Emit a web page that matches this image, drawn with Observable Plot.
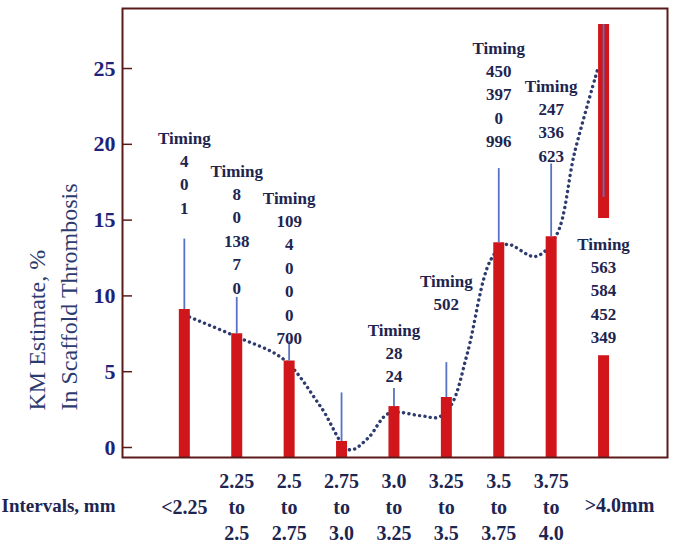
<!DOCTYPE html>
<html><head><meta charset="utf-8">
<script src="https://cdn.jsdelivr.net/npm/d3@7"></script>
<script src="https://cdn.jsdelivr.net/npm/@observablehq/plot@0.6"></script>
<style>html,body{margin:0;padding:0;background:#fff;overflow:hidden;}</style>
</head><body><div id="chart"></div>
<script>
// ---- data ----
const categories = ["<2.25", "2.25\nto\n2.5", "2.5\nto\n2.75", "2.75\nto\n3.0", "3.0\nto\n3.25", "3.25\nto\n3.5", "3.5\nto\n3.75", "3.75\nto\n4.0", ">4.0mm"];
const kmEstimate = [9.1, 7.5, 5.7, 0.4, 2.7, 3.3, 13.5, 13.9, 27.9];
const errLow  = [9.1, 7.5, 5.7, 0.4, 2.7, 3.3, 13.5, 13.9, 16.5];
const errHigh = [13.75, 9.9, 7.0, 3.6, 3.9, 5.6, 18.4, 18.7, 27.9];
// label gap cut out of the last (truncated) bar
const gapLow  = [null, null, null, null, null, null, null, null, 6.05];
const gapHigh = [null, null, null, null, null, null, null, null, 15.1];
const timingLabels = [
  "Timing\n4\n0\n1",
  "Timing\n8\n0\n138\n7\n0",
  "Timing\n109\n4\n0\n0\n0\n700",
  "",
  "Timing\n28\n24",
  "Timing\n502",
  "Timing\n450\n397\n0\n996",
  "Timing\n247\n336\n623",
  "Timing\n563\n584\n452\n349"
];
const labelTop = [21.14, 18.96, 17.18, null, 8.48, 11.71, 27.08, 24.57, 14.15];
// dotted trend curve (category position, KM estimate)
const trendPos = [1.1, 2.0, 2.9, 3.6, 4.15, 4.5, 4.9, 5.5, 5.85, 6.1, 6.4, 6.85, 7.15, 7.7, 8.1, 8.45, 8.9];
const trendVal = [8.6, 7.3, 5.8, 2.7, -0.15, 0.6, 2.25, 2.1, 2.0, 2.85, 6.2, 12.4, 13.4, 12.6, 14.0, 19.5, 25.1];
const yTicks = [0, 5, 10, 15, 20, 25];
const yDomain = [-0.66, 28.96];
const xDomain = [-0.18, 10.22];
const yLabel = "KM Estimate, %\nIn Scaffold Thrombosis";
const xLabel = "Intervals, mm";

// ---- tables built from the arrays ----
const cats = categories.map((c, i) => ({idx: i + 1, label: c, value: kmEstimate[i], lo: errLow[i], hi: errHigh[i], timing: timingLabels[i], top: labelTop[i]}));
const segments = [];
cats.forEach((d, i) => {
  if (gapLow[i] != null) {
    segments.push({idx: d.idx, y1: yDomain[0], y2: gapLow[i]});
    segments.push({idx: d.idx, y1: gapHigh[i], y2: d.value});
  } else {
    segments.push({idx: d.idx, y1: yDomain[0], y2: d.value});
  }
});
const trend = trendPos.map((p, i) => ({idx: p, v: trendVal[i]}));
const annots = cats.filter(d => d.timing);

const serif = "Liberation Serif, Times New Roman, DejaVu Serif, serif";
const navy = "#1d2550";

const chart = Plot.plot({
  width: 673,
  height: 555,
  marginLeft: 122,
  marginRight: 6,
  marginTop: 8,
  marginBottom: 98,
  x: {type: "linear", domain: xDomain, axis: null},
  y: {domain: yDomain},
  style: {fontFamily: serif, background: "white"},
  marks: [
    Plot.line(trend, {x: "idx", y: "v", curve: "catmull-rom", stroke: "#2e3b6e", strokeWidth: 3.4, strokeDasharray: "0.1 5.3", strokeLinecap: "round"}),
    Plot.ruleX(segments, {x: "idx", y1: "y1", y2: "y2", stroke: "#d0161b", strokeWidth: 11}),
    Plot.ruleX(cats, {x: "idx", y1: "lo", y2: "hi", stroke: "#5873c4", strokeWidth: 1.8}),
    Plot.text(annots, {x: "idx", y: "top", text: "timing", lineAnchor: "top", lineHeight: 1.376, fontSize: 17, fontWeight: "bold", fontFamily: serif, fill: navy}),
    Plot.frame({stroke: "#5b1a1a", strokeWidth: 2}),
    Plot.axisY({ticks: yTicks, tickSize: 10, dx: 10, tickFormat: () => "", label: null, stroke: "#5b1a1a", strokeWidth: 1.5}),
    Plot.axisY({ticks: yTicks, tickSize: 0, tickPadding: 7, label: null, fontSize: 22, fontWeight: "bold", fontFamily: serif, fill: "#1f2378"}),
    Plot.text(cats.slice(0, 8), {x: "idx", text: "label", frameAnchor: "bottom", dy: 48, lineAnchor: "middle", lineHeight: 1.32, fontSize: 20, fontWeight: "bold", fontFamily: serif, fill: navy}),
    Plot.text(cats.slice(8), {x: "idx", text: "label", frameAnchor: "bottom", dx: 16, dy: 48, lineAnchor: "middle", fontSize: 20, fontWeight: "bold", fontFamily: serif, fill: navy}),
    Plot.text([xLabel], {frameAnchor: "bottom-left", dx: -121, dy: 48, textAnchor: "start", lineAnchor: "middle", fontSize: 19, fontWeight: "bold", fontFamily: serif, fill: navy}),
    Plot.text([yLabel], {frameAnchor: "bottom-left", rotate: -90, textAnchor: "start", lineAnchor: "middle", lineHeight: 1.3, dx: -71.5, dy: -47, fontSize: 24, fontFamily: serif, fill: "#2c3a70"})
  ]
});
document.getElementById("chart").appendChild(chart);
</script>
</body></html>
